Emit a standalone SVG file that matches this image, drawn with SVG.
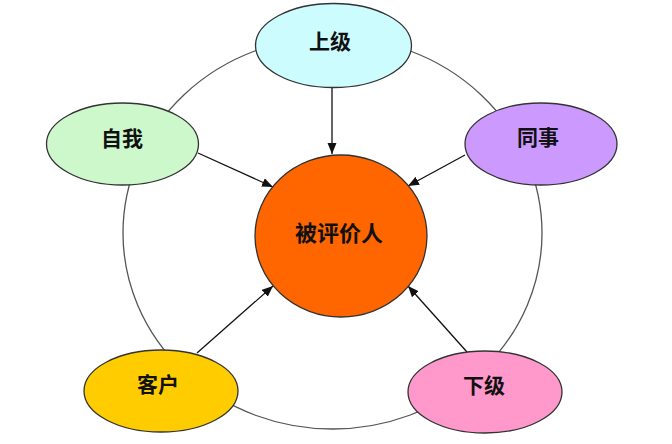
<svg xmlns="http://www.w3.org/2000/svg" width="672" height="444" viewBox="0 0 672 444">
  <defs>
    <style>
      .node { stroke: #333333; stroke-width: 1.3; }
      .ring { fill: none; stroke: #555555; stroke-width: 1.3; }
      .conn { fill: none; stroke: #111111; stroke-width: 1.3; }
      .label { font-family: "Noto Sans CJK SC", "Noto Sans", sans-serif; font-weight: bold; font-size: 21px; fill: #111111; text-anchor: middle; dominant-baseline: central; }
    </style>
    <marker id="arrow" markerUnits="userSpaceOnUse" markerWidth="12" markerHeight="10" refX="11" refY="4.5" orient="auto">
      <path d="M0,0 L11,4.5 L0,9 z" fill="#111111"/>
    </marker>
  </defs>
  <rect width="672" height="444" fill="#ffffff"/>

  <g id="connectors">
    <ellipse class="ring" cx="332.5" cy="233" rx="209.5" ry="196"/>
    <line class="conn" x1="332" y1="86" x2="332" y2="154" marker-end="url(#arrow)"/>
    <line class="conn" x1="198" y1="153" x2="273" y2="187" marker-end="url(#arrow)"/>
    <line class="conn" x1="465" y1="155" x2="408" y2="186" marker-end="url(#arrow)"/>
    <line class="conn" x1="197" y1="353" x2="273" y2="286" marker-end="url(#arrow)"/>
    <line class="conn" x1="467" y1="352" x2="408" y2="286" marker-end="url(#arrow)"/>
  </g>

  <g id="node-shangji">
    <ellipse class="node" cx="333.5" cy="45.5" rx="78" ry="42" fill="#ccfcfe"/>
    <text class="label" x="330" y="40">上级</text>
  </g>
  <g id="node-ziwo">
    <ellipse class="node" cx="122.5" cy="144" rx="76" ry="41" fill="#ccf8cc"/>
    <text class="label" x="122" y="137">自我</text>
  </g>
  <g id="node-tongshi">
    <ellipse class="node" cx="541" cy="144" rx="76" ry="41" fill="#cc99ff"/>
    <text class="label" x="538" y="136">同事</text>
  </g>
  <g id="node-center">
    <ellipse class="node" cx="341" cy="236" rx="86" ry="81" fill="#ff6600"/>
    <text class="label" x="339" y="231" style="font-size:22px">被评价人</text>
  </g>
  <g id="node-kehu">
    <ellipse class="node" cx="161" cy="391" rx="77" ry="41" fill="#ffcc00"/>
    <text class="label" x="158" y="383">客户</text>
  </g>
  <g id="node-xiaji">
    <ellipse class="node" cx="485" cy="392" rx="77" ry="41" fill="#ff99cc"/>
    <text class="label" x="484" y="384">下级</text>
  </g>
</svg>
